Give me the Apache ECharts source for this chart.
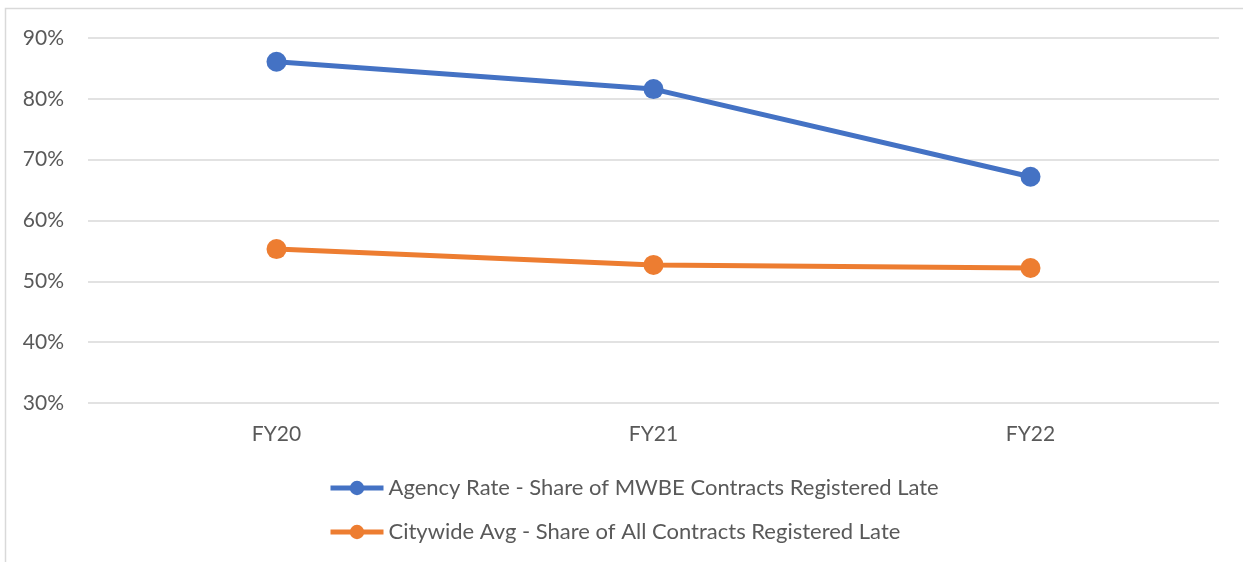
<!DOCTYPE html>
<html>
<head>
<meta charset="utf-8">
<script src="https://cdn.jsdelivr.net/npm/echarts@6/dist/echarts.min.js"></script>
<style>
html,body{margin:0;padding:0;background:#fff;}
#c{width:1243px;height:562px;}
</style>
</head>
<body>
<div id="c"></div>
<script>
const categories = ['FY20', 'FY21', 'FY22'];
const agencyRate = [86.1, 81.6, 67.2];
const citywideAvg = [55.3, 52.7, 52.2];
const seriesNames = ['Agency Rate - Share of MWBE Contracts Registered Late', 'Citywide Avg - Share of All Contracts Registered Late'];
const yTicks = { min: 30, max: 90, interval: 10 };

const chart = echarts.init(document.getElementById('c'));
const font = 'Lato, "Open Sans", sans-serif';
chart.setOption({
  animation: false,
  backgroundColor: '#fff',
  graphic: [{
    type: 'rect', shape: { x: 5.5, y: 8.5, width: 1400, height: 700 },
    style: { fill: 'none', stroke: '#d9d9d9', lineWidth: 1.5 }, silent: true, z: -1
  }],
  grid: { left: 88, right: 24, top: 38, bottom: 159 },
  xAxis: {
    type: 'category', data: categories,
    axisLine: { show: false }, axisTick: { show: false },
    axisLabel: { color: '#595959', fontSize: 21, fontFamily: font, margin: 21 }
  },
  yAxis: {
    type: 'value', min: yTicks.min, max: yTicks.max, interval: yTicks.interval,
    axisLine: { show: false }, axisTick: { show: false },
    axisLabel: { color: '#595959', fontSize: 21, fontFamily: font, margin: 24, formatter: v => v + '%' },
    splitLine: { lineStyle: { color: '#d9d9d9', width: 1.5 } }
  },
  legend: {
    orient: 'vertical', left: 323, top: 470, itemWidth: 53, itemHeight: 18, itemGap: 18,
    textStyle: { color: '#595959', fontSize: 22, fontFamily: font, lineHeight: 26 },
    lineStyle: { width: 5 },
    data: seriesNames
  },
  series: [
    { name: seriesNames[0], type: 'line', data: agencyRate, symbol: 'circle', symbolSize: 20,
      color: '#4472C4', lineStyle: { width: 5, color: '#4472C4' }, itemStyle: { color: '#4472C4' } },
    { name: seriesNames[1], type: 'line', data: citywideAvg, symbol: 'circle', symbolSize: 20,
      color: '#ED7D31', lineStyle: { width: 5, color: '#ED7D31' }, itemStyle: { color: '#ED7D31' } }
  ]
});
</script>
</body>
</html>
